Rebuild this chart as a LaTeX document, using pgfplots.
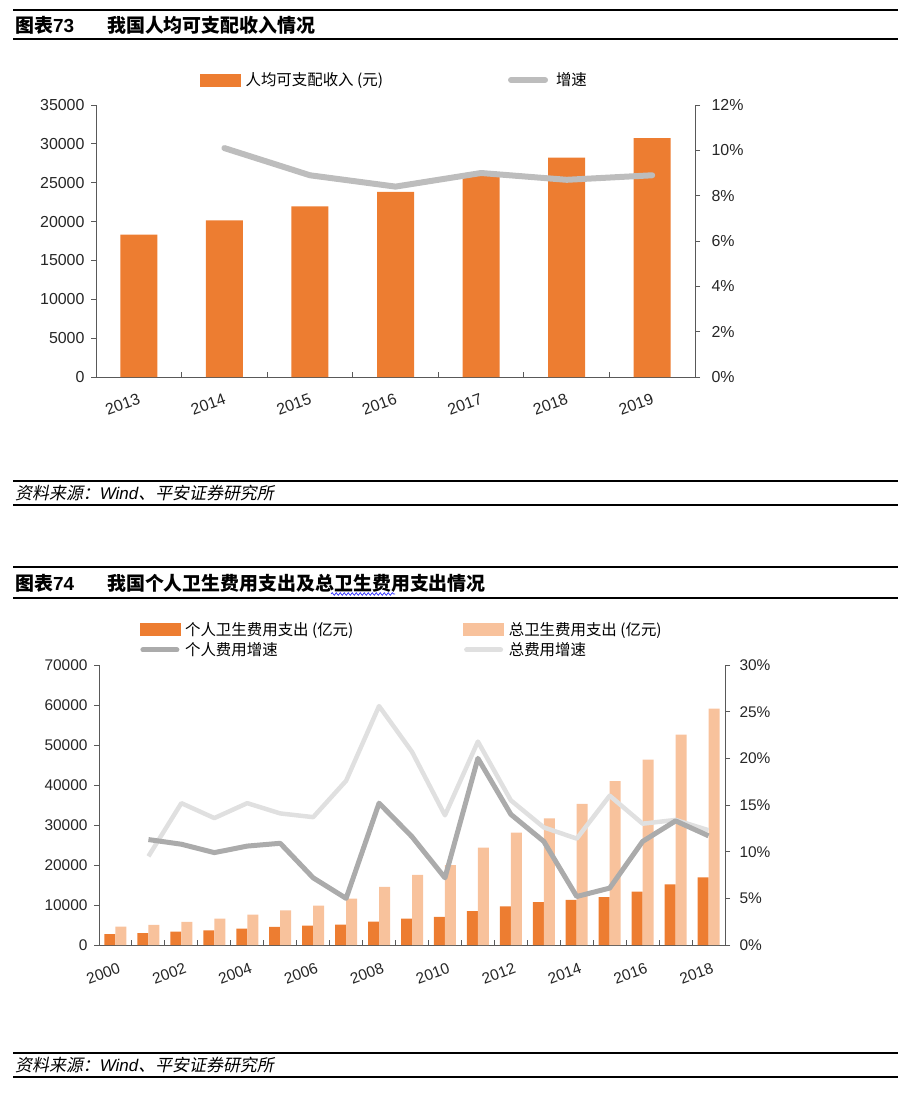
\documentclass[border=0pt]{standalone}
\usepackage{pgfplots}
\pgfplotsset{compat=1.18}
\usepackage{fontspec}
\setmainfont{Liberation Sans}
\newfontfamily\cjk{Noto Sans CJK SC}
\newfontfamily\cjkit[FakeSlant=0.2]{Noto Sans CJK SC}
\usetikzlibrary{decorations.pathmorphing}

\definecolor{barorange}{HTML}{ED7D31}
\definecolor{barpeach}{HTML}{F8C29C}
\definecolor{incline}{HTML}{BDBDBD}
\definecolor{perline}{HTML}{ABABAB}
\definecolor{totline}{HTML}{E0E0E0}
\definecolor{axgrey}{HTML}{595959}

\pgfplotsset{
  rep/.style={
    scale only axis,
    clip=false,
    scaled y ticks=false,
    /pgf/number format/assume math mode=true,
    /pgf/number format/1000 sep={},
    tick label style={font=\fontsize{16}{16}\selectfont, text=black!85},
    axis line style={axgrey, line width=1bp},
    tick style={axgrey, line width=1bp},
    tick align=outside,
    major tick length=5bp,
    minor tick length=5bp,
  },
  legimg bar/.style={legend image code/.code={\fill[#1] (0bp,-6bp) rectangle (40bp,6bp);}},
  legimg line/.style 2 args={legend image code/.code={\draw[#1, line width=#2, line cap=round] (3bp,0bp) -- (37bp,0bp); \path (0bp,-6bp) (40bp,6bp);}},
}

\begin{document}
\begin{tikzpicture}
\begin{scope}[x=1bp, y=1bp]
\path[use as bounding box] (0,0) rectangle (910,-1096);

% ---- header 73
\draw[line width=1.2bp] (13,-10) -- (898,-10);
\draw[line width=1.2bp] (13,-39) -- (898,-39);
\node[anchor=west, inner sep=0] at (15,-25) {\fontsize{19}{19}\selectfont{\cjk\bfseries 图表}\bfseries 73};
\node[anchor=west, inner sep=0] at (107,-25) {\cjk\bfseries\fontsize{19}{19}\selectfont 我国人均可支配收入情况};

% ---- footer 73
\draw[line width=1.2bp] (13,-481) -- (898,-481);
\draw[line width=1.2bp] (13,-505) -- (898,-505);
\node[anchor=west, inner sep=0] at (15,-493) {\cjkit\fontsize{17}{17}\selectfont 资料来源：{\normalfont\itshape\fontsize{17}{17}\selectfont Wind}、平安证券研究所};

% ---- header 74
\draw[line width=1.2bp] (13,-567) -- (898,-567);
\draw[line width=1.2bp] (13,-598) -- (898,-598);
\node[anchor=west, inner sep=0] at (15,-583) {\fontsize{19}{19}\selectfont{\cjk\bfseries 图表}\bfseries 74};
\node[anchor=west, inner sep=0] at (107,-583) {\cjk\bfseries\fontsize{19}{19}\selectfont 我国个人卫生费用支出及总卫生费用支出情况};
\draw[blue!80, line width=0.7bp, decorate, decoration={snake, amplitude=1.3bp, segment length=4bp}] (331,-594) -- (395,-594);

% ---- footer 74
\draw[line width=1.2bp] (13,-1053) -- (898,-1053);
\draw[line width=1.2bp] (13,-1077) -- (898,-1077);
\node[anchor=west, inner sep=0] at (15,-1065) {\cjkit\fontsize{17}{17}\selectfont 资料来源：{\normalfont\itshape\fontsize{17}{17}\selectfont Wind}、平安证券研究所};
\end{scope}

% ================= chart 73 =================
\begin{axis}[rep, at={(96bp,-377bp)}, anchor=south west, width=599bp, height=272bp,
  xmin=-0.5, xmax=6.5, ymin=0, ymax=35000,
  axis x line*=bottom, axis y line*=left,
  ytick={0,5000,...,35000},
  yticklabel style={xshift=-3bp},
  xtick={0,...,6}, xticklabels={2013,2014,2015,2016,2017,2018,2019},
  major x tick style={draw=none},
  minor xtick={0.5,1.5,...,5.5},
  minor x tick style={yshift=5bp},
  xticklabel style={rotate=20, anchor=north east, inner sep=0pt, yshift=-10bp, xshift=-5bp},
  ybar, bar width=37bp,
]
\addplot[fill=barorange, draw=none] coordinates {(0,18311) (1,20167) (2,21966) (3,23821) (4,25974) (5,28228) (6,30733)};
\end{axis}

\begin{axis}[rep, at={(96bp,-377bp)}, anchor=south west, width=599bp, height=272bp,
  xmin=-0.5, xmax=6.5, ymin=0, ymax=12,
  axis x line=none, axis y line*=right,
  ytick={0,2,...,12},
  yticklabel={\pgfmathprintnumber{\tick}\%},
  yticklabel style={xshift=8bp},
  legend columns=2,
  legend cell align=left,
  legend style={at={(0.1736,1.092)}, anchor=west, draw=none, fill=none, inner sep=0pt,
    font=\cjk\fontsize{15.5}{16}\selectfont,
    nodes={inner sep=2bp},
    /tikz/every odd column/.append style={column sep=3bp},
    /tikz/every even column/.append style={column sep=120bp}},
]
\addlegendimage{legimg bar=barorange}
\addlegendentry{人均可支配收入 (元)}
\addplot[incline, line width=6bp, line cap=round, line join=round, legimg line={incline}{6bp}]
  coordinates {(1,10.1) (2,8.9) (3,8.4) (4,9.0) (5,8.7) (6,8.9)};
\addlegendentry{增速}
\end{axis}

% ================= chart 74 =================
\begin{axis}[rep, at={(99bp,-945bp)}, anchor=south west, width=626bp, height=280bp,
  xmin=-0.5, xmax=18.5, ymin=0, ymax=70000,
  tick label style={font=\fontsize{15.5}{16}\selectfont},
  axis x line*=bottom, axis y line*=left,
  ytick={0,10000,...,70000},
  yticklabel style={xshift=-3bp},
  xtick={0,2,...,18}, xticklabels={2000,2002,2004,2006,2008,2010,2012,2014,2016,2018},
  major x tick style={draw=none},
  minor xtick={0.5,1.5,...,17.5},
  minor x tick style={yshift=5bp},
  xticklabel style={rotate=20, anchor=north east, inner sep=0pt, yshift=-12bp, xshift=-2bp},
  ybar=0pt, bar width=11bp,
]
\addplot[fill=barorange, draw=none] coordinates {(0,2705) (1,2954) (2,3342) (3,3679) (4,4071) (5,4521) (6,4854) (7,5099) (8,5876) (9,6571) (10,7051) (11,8465) (12,9656) (13,10729) (14,11295) (15,11993) (16,13338) (17,15134) (18,16912)};
\addplot[fill=barpeach, draw=none] coordinates {(0,4587) (1,5026) (2,5790) (3,6584) (4,7590) (5,8660) (6,9843) (7,11574) (8,14535) (9,17542) (10,19980) (11,24346) (12,28119) (13,31669) (14,35312) (15,40975) (16,46345) (17,52598) (18,59122)};
\end{axis}

\begin{axis}[rep, at={(99bp,-945bp)}, anchor=south west, width=626bp, height=280bp,
  xmin=-0.5, xmax=18.5, ymin=0, ymax=30,
  tick label style={font=\fontsize{15.5}{16}\selectfont},
  axis x line=none, axis y line*=right,
  ytick={0,5,...,30},
  yticklabel={\pgfmathprintnumber{\tick}\%},
  yticklabel style={xshift=6bp},
  legend columns=2,
  legend cell align=left,
  legend style={at={(0.0647,1.1607)}, anchor=north west, draw=none, fill=none, inner sep=0pt,
    font=\cjk\fontsize{15.5}{16}\selectfont,
    nodes={inner sep=2bp}, row sep=2bp,
    /tikz/every odd column/.append style={column sep=3bp},
    /tikz/every even column/.append style={column sep=108bp}},
]
\addlegendimage{legimg bar=barorange}
\addlegendentry{个人卫生费用支出 (亿元)}
\addlegendimage{legimg bar=barpeach}
\addlegendentry{总卫生费用支出 (亿元)}
\addlegendimage{legimg line={perline}{5bp}}
\addlegendentry{个人费用增速}
\addlegendimage{legimg line={totline}{5bp}}
\addlegendentry{总费用增速}
\addplot[totline, line width=4.5bp, line join=round, forget plot]
  coordinates {(1,9.5) (2,15.2) (3,13.6) (4,15.2) (5,14.1) (6,13.7) (7,17.6) (8,25.6) (9,20.7) (10,13.9) (11,21.8) (12,15.5) (13,12.6) (14,11.4) (15,16.0) (16,13.0) (17,13.4) (18,12.3)};
\addplot[perline, line width=5bp, line join=round, forget plot]
  coordinates {(1,11.3) (2,10.8) (3,9.9) (4,10.6) (5,10.9) (6,7.2) (7,5.0) (8,15.2) (9,11.6) (10,7.2) (11,20.0) (12,14.0) (13,11.1) (14,5.2) (15,6.1) (16,11.1) (17,13.3) (18,11.7)};
\end{axis}
\end{tikzpicture}
\end{document}
